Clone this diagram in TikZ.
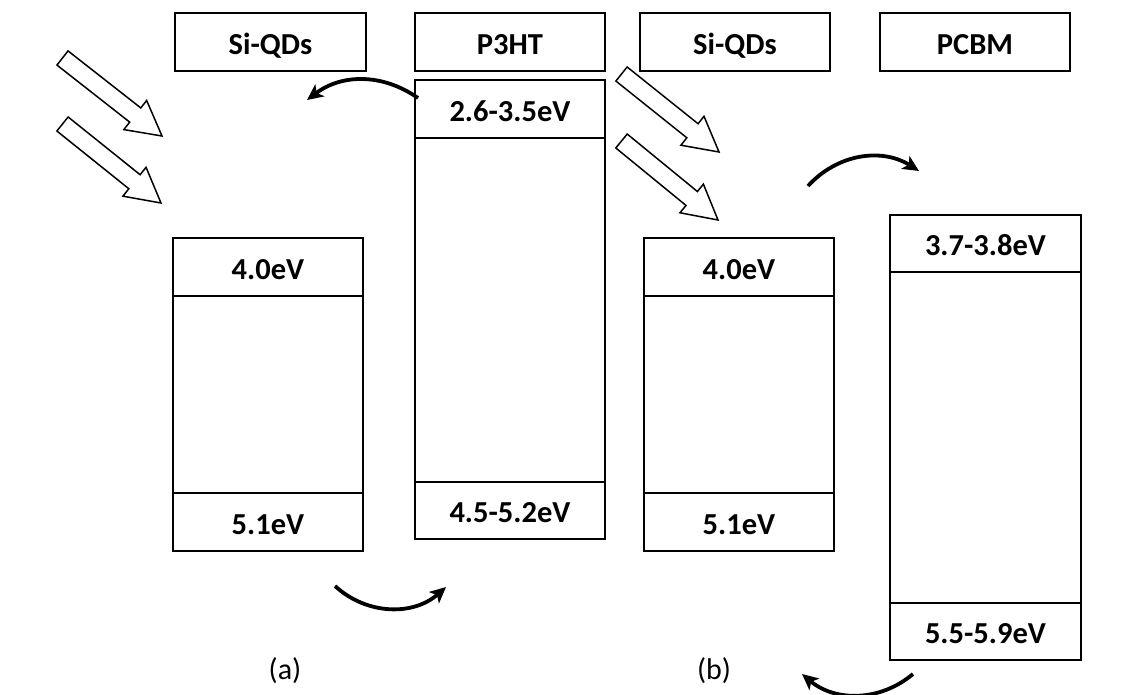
\documentclass[tikz,border=0pt]{standalone}
\usepackage{fontspec}
\setmainfont{Carlito}
\usetikzlibrary{calc,arrows.meta}
\tikzset{
  lbl/.style={draw, line width=1.9pt, minimum width=191pt, minimum height=58pt, inner sep=0pt, anchor=north west, text height=25pt, text depth=0pt, font=\fontsize{30.5}{36}\selectfont\bfseries},
  lvl/.style={draw, line width=1.9pt, minimum width=190pt, inner sep=0pt, anchor=north west, text height=25pt, text depth=0pt, font=\fontsize{30.5}{36}\selectfont\bfseries},
  hollow/.style={draw, line width=1.5pt, fill=white, line join=miter},
  flow/.style={line width=3.8pt, -{Stealth[length=16pt,width=15pt,inset=4pt]}},
  captext/.style={font=\fontsize{30}{36}\selectfont}
}
\newcommand\hollowarrow[2]{%
  \coordinate (#1b) at ($(#2)!34pt!(#1)$);
  \draw[hollow] ($(#1)!9pt!90:(#2)$) -- ($(#1b)!9pt!-90:(#1)$) -- ($(#1b)!18.5pt!-90:(#1)$) -- (#2)
     -- ($(#1b)!18.5pt!90:(#1)$) -- ($(#1b)!9pt!90:(#1)$) -- ($(#1)!9pt!-90:(#2)$) -- cycle;}
\begin{document}
\begin{tikzpicture}[x=1pt,y=-1pt]
\useasboundingbox (0,0) rectangle (1140,694);
% top labels
\node[lbl] (labA) at (174,12) {Si-QDs};
\node[lbl, minimum width=190pt] (labP) at (414,12) {P3HT};
\node[lbl, minimum width=190pt] (labB) at (639,12) {Si-QDs};
\node[lbl, minimum width=190pt] (labC) at (879,12) {PCBM};
% Si-QDs (a)
\node[lvl, minimum height=58pt] (aL) at (172,237) {4.0eV};
\node[lvl, minimum height=197pt] (aG) at (172,295) {};
\node[lvl, minimum height=58pt] (aH) at (172,492) {5.1eV};
% P3HT
\node[lvl, minimum height=58pt] (pL) at (414,79) {2.6-3.5eV};
\node[lvl, minimum height=344pt] (pG) at (414,137) {};
\node[lvl, minimum height=57pt] (pH) at (414,481) {4.5-5.2eV};
% Si-QDs (b)
\node[lvl, minimum height=58pt] (bL) at (643,237) {4.0eV};
\node[lvl, minimum height=197pt] (bG) at (643,295) {};
\node[lvl, minimum height=58pt] (bH) at (643,492) {5.1eV};
% PCBM
\node[lvl, minimum width=191pt, minimum height=57pt] (cL) at (889,214) {3.7-3.8eV};
\node[lvl, minimum width=191pt, minimum height=331pt] (cG) at (889,271) {};
\node[lvl, minimum width=191pt, minimum height=57pt] (cH) at (889,602) {5.5-5.9eV};
% captions
\node[captext] (capA) at (285,671) {(a)};
\node[captext] (capB) at (714,671) {(b)};
% light arrows
\coordinate (a1t) at (62.5,58);  \coordinate (a1h) at (162,136);
\coordinate (a2t) at (62.5,124); \coordinate (a2h) at (161,203);
\coordinate (b1t) at (621.5,74); \coordinate (b1h) at (719,152);
\coordinate (b2t) at (621.5,141);\coordinate (b2h) at (718,220);
\hollowarrow{a1t}{a1h}
\hollowarrow{a2t}{a2h}
\hollowarrow{b1t}{b1h}
\hollowarrow{b2t}{b2h}
% charge transfer arrows
\coordinate (c1s) at (418,98);  \coordinate (c1e) at (307,100);
\coordinate (c2s) at (335,586); \coordinate (c2e) at (446,587);
\coordinate (c3s) at (808,186); \coordinate (c3e) at (919,171);
\coordinate (c4s) at (913,674); \coordinate (c4e) at (802,674);
\draw[flow] (c1s) to[bend right=36] (c1e);
\draw[flow] (c2s) to[bend right=42] (c2e);
\draw[flow] (c3s) to[bend left=40] (c3e);
\draw[flow] (c4s) to[bend left=40] (c4e);
\end{tikzpicture}
\end{document}
